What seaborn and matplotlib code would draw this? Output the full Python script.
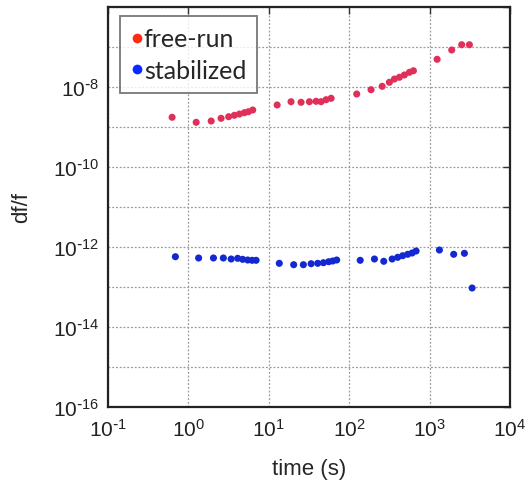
import numpy as np
import pandas as pd
import matplotlib
matplotlib.use("Agg")
import matplotlib.pyplot as plt
from matplotlib.ticker import FixedLocator, FuncFormatter, NullLocator
from matplotlib.lines import Line2D
import seaborn as sns

# ---- data ----
free_t = [0.627, 1.25, 1.92, 2.55, 3.17, 3.73, 4.31, 4.97, 5.57, 6.31,
          12.7, 18.9, 25.2, 32.0, 38.7, 44.7, 51.6, 59.6,
          124, 187, 257, 316, 365, 421, 486, 561, 629,
          1240, 1884, 2507, 3126]
free_df = [1.75e-9, 1.31e-9, 1.41e-9, 1.65e-9, 1.81e-9, 1.96e-9, 2.11e-9, 2.28e-9, 2.41e-9, 2.66e-9,
           3.55e-9, 4.29e-9, 4.15e-9, 4.29e-9, 4.39e-9, 4.29e-9, 4.81e-9, 5.22e-9,
           6.68e-9, 8.56e-9, 1.04e-8, 1.31e-8, 1.58e-8, 1.75e-8, 2.0e-8, 2.33e-8, 2.55e-8,
           4.93e-8, 8.41e-8, 1.14e-7, 1.14e-7]

stab_t = [0.689, 1.34, 2.05, 2.72, 3.40, 4.10, 4.73, 5.46, 6.20, 6.95,
          13.5, 20.4, 26.9, 33.6, 40.6, 47.8, 55.6, 62.4, 69.9,
          137, 206, 269, 342, 401, 463, 534, 606, 679,
          1324, 1994, 2710, 3378]
stab_df = [5.72e-13, 5.31e-13, 5.31e-13, 5.31e-13, 5.01e-13, 5.21e-13, 4.92e-13, 4.73e-13, 4.65e-13, 4.65e-13,
           3.91e-13, 3.61e-13, 3.61e-13, 3.82e-13, 3.91e-13, 4.05e-13, 4.29e-13, 4.47e-13, 4.73e-13,
           4.65e-13, 5.01e-13, 4.39e-13, 5.01e-13, 5.52e-13, 6.06e-13, 6.57e-13, 7.08e-13, 7.94e-13,
           8.41e-13, 6.57e-13, 6.95e-13, 9.44e-14]

series_names = ["free-run", "stabilized"]
series_colors = ["#e0305a", "#1428d2"]
legend_colors = ["#ff2a10", "#0a28ff"]

x_decades = [-1, 0, 1, 2, 3, 4]
y_decades = list(range(-16, -5))
y_labeled = [-16, -14, -12, -10, -8]

df = pd.DataFrame({
    "time": free_t + stab_t,
    "dff": free_df + stab_df,
    "series": [series_names[0]] * len(free_t) + [series_names[1]] * len(stab_t),
})

sns.set_style("white")
plt.rcParams["font.family"] = ["Liberation Sans", "DejaVu Sans"]
plt.rcParams["mathtext.default"] = "regular"


def pow_label(v):
    e = int(round(np.log10(v)))
    if e < 0:
        return r"$10^{\text{-}%d}$" % (-e)
    return r"$10^{%d}$" % e


fig = plt.figure(figsize=(5.26, 4.81), dpi=100)
ax = fig.add_axes([108 / 526, 1 - 408 / 481, 402 / 526, 400 / 481])

sns.scatterplot(data=df, x="time", y="dff", hue="series",
                palette=dict(zip(series_names, series_colors)),
                s=26, linewidth=0, ax=ax, legend=False, zorder=3)

ax.set_xscale("log")
ax.set_yscale("log")
ax.set_xlim(10.0 ** x_decades[0], 10.0 ** x_decades[-1])
ax.set_ylim(10.0 ** y_decades[0], 10.0 ** y_decades[-1])

ax.xaxis.set_major_locator(FixedLocator([10.0 ** d for d in x_decades]))
ax.xaxis.set_minor_locator(NullLocator())
ax.yaxis.set_major_locator(FixedLocator([10.0 ** d for d in y_decades]))
ax.yaxis.set_minor_locator(NullLocator())
ax.xaxis.set_major_formatter(FuncFormatter(lambda v, p: pow_label(v)))
ax.yaxis.set_major_formatter(FuncFormatter(
    lambda v, p: pow_label(v) if int(round(np.log10(v))) in y_labeled else ""))

ax.tick_params(axis="both", which="major", direction="in", length=5, width=1,
               top=True, right=True, labelsize=15, color="#333333", labelcolor="#222222")
ax.tick_params(axis="x", pad=8)
ax.tick_params(axis="y", pad=6)

ax.grid(True, which="major", color="#9a9a9a", linestyle=(0, (1.5, 1.5)), linewidth=0.9)
for sp in ax.spines.values():
    sp.set_visible(True)
    sp.set_color("#222222")
    sp.set_linewidth(1.6)

ax.set_xlabel("time (s)", fontsize=16, labelpad=13)
ax.set_ylabel("df/f", fontsize=16, labelpad=15)

handles = [Line2D([], [], marker="o", linestyle="", markersize=7,
                  markerfacecolor=c, markeredgewidth=0) for c in legend_colors]
leg = ax.legend(handles, series_names, loc="upper left",
                bbox_to_anchor=((120 - 108) / 402, (408 - 17) / 400),
                borderaxespad=0, handlelength=0.45, handletextpad=0.05, labelspacing=0.35,
                borderpad=0.45, fancybox=False, frameon=True, edgecolor="#555555",
                prop={"family": "Lato", "size": 18})
leg.get_frame().set_linewidth(1.3)

fig.savefig("out.png", dpi=100)
